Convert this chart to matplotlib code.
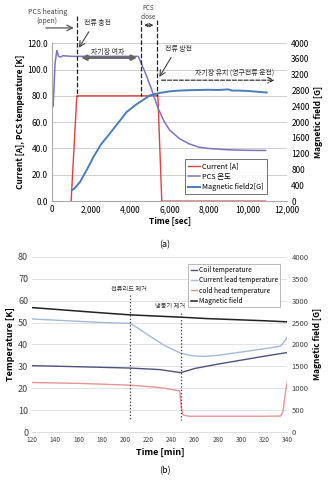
import numpy as np
import matplotlib.pyplot as plt
from matplotlib.ticker import FuncFormatter

plt.rcParams['font.family'] = ['Noto Sans CJK KR', 'DejaVu Sans']

# ---- (a) PCS charging test ----
cur_t = [970, 1260, 5400, 5600, 10900]
cur_v = [0, 80, 80, 0, 0]

pcs_t = [50, 150, 240, 330, 440, 550, 1000, 2000, 3000, 4000, 4400, 4800, 5100, 5400,
         5700, 6000, 6500, 7000, 7500, 8000, 9000, 10000, 10900]
pcs_v = [72, 105, 114.5, 110, 109.5, 110.5, 110, 110, 110, 110, 110, 96, 84, 71,
         61, 54, 47.5, 43.5, 41, 40, 39, 38.6, 38.5]

mag_t = [1000, 1100, 1430, 1800, 2110, 2500, 2960, 3400, 3810, 4300, 5000, 5500,
         6000, 6500, 7000, 7500, 8000, 8500, 9000, 9200, 9500, 10000, 10500, 10960]
mag_v = [280, 300, 490, 820, 1120, 1440, 1720, 2000, 2260, 2450, 2680, 2740,
         2780, 2800, 2810, 2815, 2820, 2815, 2830, 2800, 2800, 2790, 2770, 2750]

# ---- (b) persistent mode ----
mf_t = [120, 140, 160, 180, 204, 220, 248, 270, 300, 320, 340]
mf_v = [2840, 2800, 2760, 2720, 2675, 2655, 2622, 2590, 2560, 2540, 2515]

lead_t = [120, 150, 180, 204, 208, 215, 225, 235, 248, 258, 268, 280, 300, 320, 334, 337, 340]
lead_v = [51.6, 50.8, 50.0, 49.6, 48.5, 46.0, 42.5, 39.2, 36.0, 34.8, 34.5, 35.0,
          36.5, 38.0, 39.2, 41.0, 43.5]

coil_t = [120, 160, 204, 230, 248, 260, 280, 300, 320, 340]
coil_v = [30.3, 29.8, 29.2, 28.5, 27.1, 29.0, 31.0, 32.8, 34.6, 36.3]

cold_t = [120, 160, 204, 230, 247, 248.5, 250, 255, 280, 320, 334, 336, 338, 340]
cold_v = [22.6, 22.2, 21.4, 20.3, 18.8, 11, 7.8, 7.2, 7.2, 7.2, 7.3, 9, 17, 23.4]

fig = plt.figure(figsize=(3.3, 4.8), dpi=100)
grid_c = '#cfcfcf'
fs = 6

# ----- top chart -----
ax1 = fig.add_axes([0.158, 0.581, 0.712, 0.329])
ax1b = ax1.twinx()
l1, = ax1.plot(cur_t, cur_v, color='#e0403f', lw=1.0, label='Current [A]')
l2, = ax1.plot(pcs_t, pcs_v, color='#7d72c4', lw=1.1, label='PCS 온도')
l3, = ax1b.plot(mag_t, mag_v, color='#4a7ebb', lw=1.4, label='Magnetic field2[G]')
ax1.set_xlim(0, 12000)
ax1.set_ylim(0, 120)
ax1b.set_ylim(0, 4000)
ax1.set_xticks(np.arange(0, 12001, 2000))
ax1.set_yticks(np.arange(0, 121, 20))
ax1b.set_yticks(np.arange(0, 4001, 400))
ax1.xaxis.set_major_formatter(FuncFormatter(lambda v, p: f'{int(v):,}'))
ax1.yaxis.set_major_formatter(FuncFormatter(lambda v, p: f'{v:.1f}'))
ax1.grid(axis='y', color=grid_c, lw=0.7)
ax1.set_axisbelow(True)
for a in (ax1, ax1b):
    a.tick_params(labelsize=fs, length=0, pad=3)
    for s in a.spines.values():
        s.set_visible(False)
ax1.spines['left'].set_visible(True)
ax1.spines['left'].set_color('#aaaaaa')
ax1.spines['bottom'].set_visible(True)
ax1.spines['bottom'].set_color('#aaaaaa')
ax1.set_xlabel('Time [sec]', fontsize=fs, fontweight='bold', labelpad=2)
ax1.set_ylabel('Current [A], PCS temperature [K]', fontsize=fs, fontweight='bold', labelpad=2)
ax1b.set_ylabel('Magnetic field [G]', fontsize=fs, fontweight='bold', labelpad=3)
leg = ax1.legend(handles=[l1, l2, l3], loc='lower right', bbox_to_anchor=(0.93, 0.02),
                 fontsize=5.3, frameon=True, fancybox=False, handlelength=1.6,
                 handletextpad=0.3, borderpad=0.4, labelspacing=0.35)
leg.get_frame().set_edgecolor('#333333')
leg.get_frame().set_linewidth(0.6)

# annotations
afs = 5
for x, y0 in [(1290, 141), (4530, 137.5), (5345, 137.5)]:
    ax1.plot([x, x], [y0, 80], color='#222222', ls='--', lw=0.9, clip_on=False, zorder=5)
ax1.text(-255, 140, 'PCS heating\n(open)', fontsize=afs, ha='center', va='center',
         linespacing=1.2, color='#444444')
ax1.annotate('', xy=(1250, 131.6), xytext=(-460, 131.6), annotation_clip=False,
             arrowprops=dict(arrowstyle='->', color='#555555', lw=0.9))
ax1.text(2300, 135.2, '전류 충전', fontsize=afs, ha='center', va='center', color='#333333')
ax1.annotate('', xy=(1290, 114.7), xytext=(1950, 130.5), annotation_clip=False,
             arrowprops=dict(arrowstyle='->', color='#444444', lw=0.8))
ax1.text(2860, 113.3, '자기장 여자', fontsize=afs, ha='center', va='center', color='#333333')
ax1.annotate('', xy=(1330, 109), xytext=(4490, 109), annotation_clip=False,
             arrowprops=dict(arrowstyle='<|-|>', color='#666666', lw=1.8, mutation_scale=7))
ax1.text(4930, 143.5, 'PCS\nclose', fontsize=afs - 0.5, ha='center', va='center',
         linespacing=1.2, color='#444444')
ax1.annotate('', xy=(4560, 133.7), xytext=(5315, 133.7), annotation_clip=False,
             arrowprops=dict(arrowstyle='<->', color='#333333', lw=0.8, mutation_scale=5))
ax1.text(6430, 115.4, '전류 방전', fontsize=afs, ha='center', va='center', color='#333333')
ax1.annotate('', xy=(5400, 92.5), xytext=(6150, 111), annotation_clip=False,
             arrowprops=dict(arrowstyle='->', color='#444444', lw=0.8))
ax1.text(9340, 98, '자기장 유지 (영구전류 운전)', fontsize=afs, ha='center', va='center',
         color='#333333')
ax1.annotate('', xy=(11500, 91.9), xytext=(5450, 91.9), annotation_clip=False,
             arrowprops=dict(arrowstyle='->', color='#222222', lw=0.8, ls='--'))
fig.text(0.5, 0.49, '(a)', fontsize=6.5, ha='center', va='center')

# ----- bottom chart -----
ax2 = fig.add_axes([0.098, 0.1, 0.773, 0.365])
ax2b = ax2.twinx()
m1, = ax2.plot(coil_t, coil_v, color='#50527e', lw=1.0, label='Coil temperature')
m2, = ax2.plot(lead_t, lead_v, color='#a3bad8', lw=1.0, label='Current lead temperature')
m3, = ax2.plot(cold_t, cold_v, color='#e59595', lw=1.0, label='cold head temperature')
m4, = ax2b.plot(mf_t, mf_v, color='#222222', lw=1.1, label='Magnetic field')
for x, y0 in [(204, 62.6), (248, 54.4)]:
    ax2.plot([x, x], [y0, 5.5], color='#333333', ls=':', lw=0.9)
ax2.text(203, 65.2, '전류리드 제거', fontsize=4.5, ha='center', va='center', color='#333333')
ax2.text(239, 57.7, '냉동기 제거', fontsize=4.5, ha='center', va='center', color='#333333')
ax2.set_xlim(120, 340)
ax2.set_ylim(0, 80)
ax2b.set_ylim(0, 4000)
ax2.set_xticks(np.arange(120, 341, 20))
ax2.set_yticks(np.arange(0, 81, 10))
ax2b.set_yticks(np.arange(0, 4001, 500))
ax2.grid(axis='y', color='#e2e2e2', lw=0.7)
ax2.set_axisbelow(True)
for a in (ax2, ax2b):
    a.tick_params(length=0, pad=3, labelcolor='#444444')
    for s in a.spines.values():
        s.set_visible(False)
ax2.tick_params(axis='y', labelsize=6.5)
ax2b.tick_params(axis='y', labelsize=5.5)
ax2.tick_params(axis='x', labelsize=4.8)
ax2.spines['bottom'].set_visible(True)
ax2.spines['bottom'].set_color('#dddddd')
ax2.set_xlabel('Time [min]', fontsize=6.5, fontweight='bold', labelpad=3)
ax2.set_ylabel('Temperature [K]', fontsize=6.5, fontweight='bold', labelpad=2)
ax2b.set_ylabel('Magnetic field [G]', fontsize=6, fontweight='bold', labelpad=3)
leg2 = ax2.legend(handles=[m1, m2, m3, m4], loc='upper right', bbox_to_anchor=(0.985, 0.98),
                  fontsize=4.8, frameon=True, fancybox=False, handlelength=0.9,
                  handletextpad=0.3, borderpad=0.35, labelspacing=0.35)
leg2.get_frame().set_edgecolor('#999999')
leg2.get_frame().set_linewidth(0.6)
fig.text(0.5, 0.02, '(b)', fontsize=6.5, ha='center', va='center')

fig.savefig('out.png', dpi=100)
